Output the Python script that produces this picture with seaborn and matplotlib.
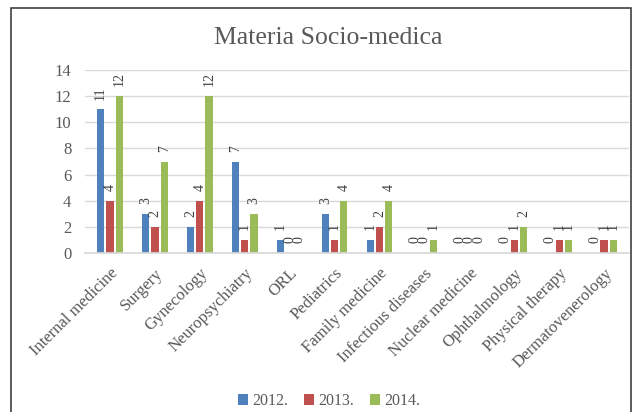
import matplotlib
matplotlib.use("Agg")
import matplotlib.pyplot as plt
import seaborn as sns
import pandas as pd
from matplotlib.patches import Rectangle

categories = ["Internal medicine", "Surgery", "Gynecology", "Neuropsychiatry", "ORL",
              "Pediatrics", "Family medicine", "Infectious diseases", "Nuclear medicine",
              "Ophthalmology", "Physical therapy", "Dermatovenerology"]
years = ["2012.", "2013.", "2014."]
v2012 = [11, 3, 2, 7, 1, 3, 1, 0, 0, 0, 0, 0]
v2013 = [4, 2, 4, 1, 0, 1, 2, 0, 0, 1, 1, 1]
v2014 = [12, 7, 12, 3, 0, 4, 4, 1, 0, 2, 1, 1]
yticks = [0, 2, 4, 6, 8, 10, 12, 14]
title = "Materia Socio-medica"

rows = []
for yr, vals in zip(years, [v2012, v2013, v2014]):
    for c, v in zip(categories, vals):
        rows.append({"cat": c, "year": yr, "value": v})
df = pd.DataFrame(rows)

sns.set_theme(style="white")
plt.rcParams["font.family"] = ["Liberation Serif", "DejaVu Serif"]

fig = plt.figure(figsize=(6.41, 4.12), dpi=100)
ax = fig.add_axes([0.133, 0.386, 0.848, 0.444])
palette = ["#4F81BD", "#C0504D", "#9BBB59"]
sns.barplot(data=df, x="cat", y="value", hue="year", order=categories, hue_order=years,
            palette=palette, width=0.62, gap=0.22, ax=ax, saturation=1, legend=True,
            linewidth=0)

for cont in ax.containers:
    ax.bar_label(cont, labels=[f"{int(v)}" for v in cont.datavalues], rotation=90,
                 padding=7, fontsize=10, color="#404040")

ax.set_ylim(0, 14)
ax.set_yticks(yticks)
ax.set_xlim(-0.55, len(categories) - 0.45)
ax.yaxis.grid(True, color="#D9D9D9", linewidth=1)
ax.set_axisbelow(True)
for s in ["top", "right", "left"]:
    ax.spines[s].set_visible(False)
ax.spines["bottom"].set_color("#D9D9D9")
ax.tick_params(axis="y", colors="#595959", labelsize=12, length=0, pad=10)
ax.tick_params(axis="x", colors="#595959", labelsize=12, length=0, pad=9)
plt.setp(ax.get_xticklabels(), rotation=45, ha="right", rotation_mode="anchor")
ax.set_xlabel("")
ax.set_ylabel("")

fig.text(328 / 641, 1 - 38 / 412, title, fontsize=18.5, color="#595959",
         ha="center", va="center")

handles, labels = ax.get_legend_handles_labels()
ax.legend_.remove()
fig.legend(handles, labels, loc="center", bbox_to_anchor=(329 / 641, 1 - 401 / 412), ncol=3,
           frameon=False, fontsize=11.5, handlelength=0.65, handleheight=0.65,
           handletextpad=0.25, columnspacing=1.0, labelcolor="#595959")

fig.patches.append(Rectangle((11 / 641, -0.01), 620 / 641, 1 - 8 / 412 + 0.01,
                             transform=fig.transFigure, fill=False,
                             edgecolor="#404040", linewidth=1.2))

fig.savefig("out.png", dpi=100)
